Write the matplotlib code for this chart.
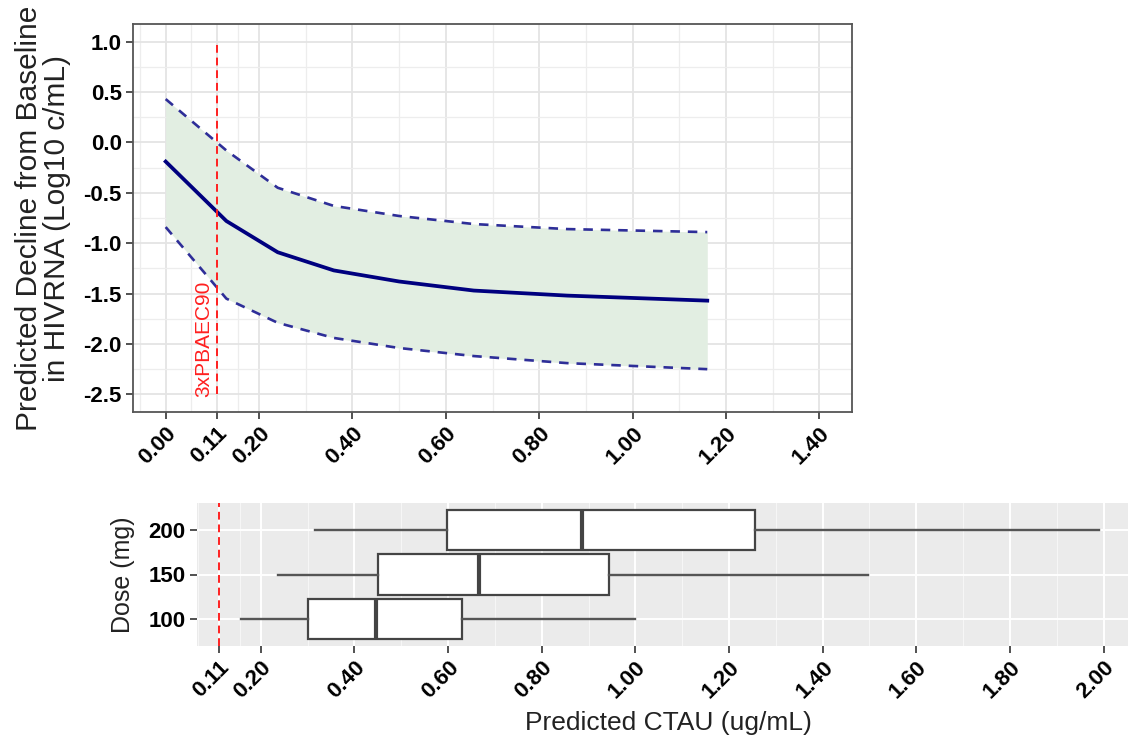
import matplotlib
matplotlib.use("Agg")
import matplotlib.pyplot as plt
import numpy as np

plt.rcParams['font.family'] = ['Liberation Sans', 'DejaVu Sans']

# ---- Top panel data ----
conc = [0.0, 0.13, 0.24, 0.36, 0.50, 0.66, 0.86, 1.16]
pred_median = [-0.19, -0.78, -1.09, -1.27, -1.38, -1.47, -1.52, -1.57]
pred_upper = [0.43, -0.08, -0.45, -0.63, -0.73, -0.81, -0.86, -0.89]
pred_lower = [-0.84, -1.55, -1.79, -1.94, -2.04, -2.12, -2.19, -2.25]
ec90_x = 0.11
ec90_label = "3xPBAEC90"
top_xticks = [0.0, 0.11, 0.2, 0.4, 0.6, 0.8, 1.0, 1.2, 1.4]
top_yticks = [1.0, 0.5, 0.0, -0.5, -1.0, -1.5, -2.0, -2.5]

# ---- Bottom panel data ----
doses = ["100", "150", "200"]
whisker_lo = [0.158, 0.236, 0.315]
q1 = [0.30, 0.451, 0.598]
med = [0.445, 0.666, 0.886]
q3 = [0.63, 0.944, 1.255]
whisker_hi = [1.00, 1.496, 1.99]
bot_xticks = [0.11, 0.2, 0.4, 0.6, 0.8, 1.0, 1.2, 1.4, 1.6, 1.8, 2.0]

TICK_FS = 16

W, H = 1128, 742
fig = plt.figure(figsize=(W/100, H/100), dpi=100)

def box(l, t, r, b):
    return [l/W, 1-b/H, (r-l)/W, (b-t)/H]

# ================= TOP =================
ax = fig.add_axes(box(133, 24, 852, 412))
ax.set_xlim(-0.07, 1.47)
ax.set_ylim(-2.675, 1.175)
ax.set_facecolor('white')
ax.fill_between(conc, pred_lower, pred_upper, color='#e2eee2', lw=0, zorder=2)
ax.plot(conc, pred_upper, color='#2e2e98', lw=1.9, ls=(0, (3.6, 3.0)), zorder=3)
ax.plot(conc, pred_lower, color='#2e2e98', lw=1.9, ls=(0, (3.6, 3.0)), zorder=3)
ax.plot(conc, pred_median, color='#00007f', lw=2.7, zorder=4)
ax.plot([ec90_x, ec90_x], [-2.5, 1.0], color='#ff2020', lw=1.4, ls=(0, (4, 2.5)), zorder=5)
ax.text(0.082, -2.53, ec90_label, color='#ff2020', rotation=90, fontsize=15,
        ha='center', va='bottom', zorder=6)

ax.set_xticks(top_xticks)
ax.set_xticklabels([f"{v:.2f}" for v in top_xticks], rotation=45, ha='right',
                   rotation_mode='anchor', fontweight='bold', fontsize=TICK_FS)
ax.set_yticks(top_yticks)
ax.set_yticklabels([f"{v:.1f}" for v in top_yticks], fontweight='bold', fontsize=TICK_FS)
minor_x = [(top_xticks[i] + top_xticks[i+1]) / 2 for i in range(len(top_xticks)-1)] + [-0.055]
minor_y = [1.25 - 0.5*i for i in range(1, 8)]
ax.set_xticks(minor_x, minor=True)
ax.set_yticks(minor_y, minor=True)
ax.tick_params(which='minor', length=0)
ax.tick_params(which='major', length=5, width=1.2, color='#333333', pad=3)
ax.grid(which='major', color='#e4e4e4', lw=1.3, zorder=0)
ax.grid(which='minor', color='#ededed', lw=0.9, zorder=0)
ax.set_axisbelow(True)
for s in ax.spines.values():
    s.set_color('#555555')
    s.set_linewidth(1.3)
ax.set_ylabel("Predicted Decline from Baseline\nin HIVRNA (Log10 c/mL)", fontsize=21.5,
              linespacing=1.02, labelpad=9, color='#222222')

# ================= BOTTOM =================
bx = fig.add_axes(box(196.7, 503.3, 1141, 645.7))
bx.set_facecolor('#ebebeb')
bx.set_xlim(0.063, 2.08)
bx.set_ylim(0.4, 3.6)
stats = []
for i in range(len(doses)):
    stats.append(dict(whislo=whisker_lo[i], q1=q1[i], med=med[i], q3=q3[i],
                      whishi=whisker_hi[i], fliers=[]))
bx.bxp(stats, positions=[1, 2, 3], widths=0.9, vert=False, showcaps=False,
       patch_artist=True, manage_ticks=False,
       boxprops=dict(facecolor='white', edgecolor='#444444', lw=1.6),
       whiskerprops=dict(color='#555555', lw=1.7),
       medianprops=dict(color='#444444', lw=3.0), zorder=3)
bx.axvline(ec90_x, color='#ff2020', lw=1.4, ls=(0, (4, 2.5)), zorder=4)
bx.set_yticks([1, 2, 3])
bx.set_yticklabels(doses, fontweight='bold', fontsize=TICK_FS)
bx.set_xticks(bot_xticks)
bx.set_xticklabels([f"{v:.2f}" for v in bot_xticks], rotation=45, ha='right',
                   rotation_mode='anchor', fontweight='bold', fontsize=TICK_FS)
bminor = [(bot_xticks[i] + bot_xticks[i+1]) / 2 for i in range(len(bot_xticks)-1)] + [0.065]
bx.set_xticks(bminor, minor=True)
bx.tick_params(which='minor', length=0)
bx.tick_params(which='major', length=5, width=1.2, color='#333333', pad=3)
bx.grid(which='major', color='white', lw=1.4, zorder=0)
bx.grid(which='minor', axis='x', color='#f6f6f6', lw=0.8, zorder=0)
bx.set_axisbelow(True)
for s in bx.spines.values():
    s.set_visible(False)
bx.set_ylabel("Dose (mg)", fontsize=18, labelpad=10, color='#222222')
bx.set_xlabel("Predicted CTAU (ug/mL)", fontsize=19, labelpad=6, color='#222222')

fig.savefig("out.png", dpi=100)
